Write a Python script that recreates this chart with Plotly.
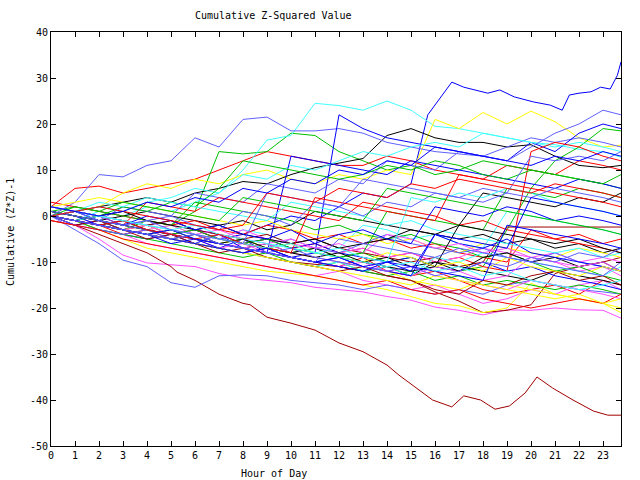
import plotly.graph_objects as go

hours = list(range(24)) + [23.75]

# colours seen in the picture
RED = "#ff0000"; GREEN = "#00c000"; BLUE = "#0000ff"; MAG = "#ff50ff"
CYAN = "#40ffff"; DRED = "#a00000"; YEL = "#ffff00"; BLACK = "#000000"; LBLUE = "#6060ff"

# ---- series (hourly values) ----
r1 = [2, 6, 6.5, 5, 6, 7, 8, 10, 12, 14, 13, 12, 11, 11, 13, 12, 10, 9, 8, 11, 10, 9, 12, 11, 10]
r2 = [0, -1, -2, -4, -3, -5, -6, -7, -8, -7, -9, -10, -11, -9, -12, -13, -12, -14, -16, -17, -16, -15, -17, -14, -15]
r3 = [1, 0, -1, -3, -2, -4, -3, -5, -6, -5, -7, -6, -8, -7, -9, -8, -10, -9, -11, -12, 14, 16, 15, 13, 12]
r4 = [3, 2, 1, 0, -1, -2, -1, -3, -4, -2, -3, -5, -4, -6, -5, -7, -6, -8, -9, -10, -3, -5, -4, -6, -5]
r5 = [0, 1, 0, -2, 3, 2, 1, 4, 3, 2, 1, 0, -1, 3, 2, 1, 0, -2, -1, -3, -4, -5, -6, -7, -8]
r6 = [-1, -2, -3, -5, -6, -7, -8, -9, -10, -11, -12, -13, -14, -15, -14, -16, -17, -16, -18, -19, -20, -19, -18, -19, -17]
r7 = [0, -1, -2, -1, -3, -4, -5, -4, -6, -7, -8, 4, 3, 2, 1, 0, -1, 9, 8, 7, 6, 5, 4, 3, 2]
r8 = [0, 1, 2, 1, 0, -1, -2, -3, -2, 5, 4, 3, 6, 5, 4, 7, 6, 8, 7, 6, 5, 7, 6, 5, 4]

g1 = [0, -1, -2, -3, -1, -2, 1, 14, 13.5, 14, 18, 17.5, 14, 12, 10, 11, 9, 10, 12, 11, 10, 9, 8, 7, 6]
g2 = [0, -1, -2, -3, -4, -3, -5, -6, -5, -7, -8, -7, -9, -8, -10, -9, -11, -12, -11, -3, 6, 12, 15, 19, 18.5]
g3 = [0, -1, -3, -4, -5, -6, -7, -8, -9, -8, -10, -11, -10, -12, -13, -12, -14, -13, -15, -14, -15, -16, -15, -16, -17]
g4 = [1, 2, 1, 0, -1, -2, 3, 2, 1, 0, -1, -3, -2, -4, -5, -4, -6, -7, -9, -8, -10, -12, -11, -13, -14]
g5 = [0, -1, 0, 2, 1, 3, 2, 6, 12, 11, 10, 9, 8, 9, 11, 10, 12, 11, 9, 8, 10, 9, 8, 7, 9]
g6 = [1, 0, -1, -2, -3, -4, -3, -5, -6, -5, -7, -8, -9, -8, 1, 0, -1, -2, -3, 6, 5, 4, 6, 5, 4]
g7 = [0, 2, 1, 3, 2, 1, 0, -1, 4, 3, 2, 1, 0, -1, 6, 5, 4, 3, 2, 1, 0, -1, -2, -3, -4]

b1_hours = list(range(16)) + [15.7, 16.7, 17.2, 17.7, 18.2, 18.7, 19.3, 20.1, 20.8, 21.3, 21.6, 22, 22.5, 22.9, 23.3, 23.6, 23.75]
b1 = [0, -1, -2, -3, -2, -4, -3, -5, -4, -2, 0, -1, 2, 5, 4, 7, 22, 29.1, 28, 27.4, 26.7, 27.4, 25.9, 24.8, 24.1, 23, 26.3, 26.7, 27, 28, 27.6, 30.6, 33.5]
b2 = [0, -1, -3, -4, -5, -4, -6, -7, -5, -8, -9, -8, 22, 19, 17, 16, 15, 14, 13, 12, 16, 14, 18, 20, 19]
b3 = [2, 1, 0, -1, -2, -1, -3, -4, -6, -5, -7, -6, -8, -9, -10, -9, -11, -12, -10, -12, -11, -13, -14, -15, -16]
b4 = [0, -2, -1, -3, -4, -5, -6, -4, -7, -8, 13, 12, 11, 10, 9, 12, 11, 10, 9, 8, 7, 6, 8, 7, 6]
b5 = [1, 0, -2, -3, -4, -6, -5, -7, -8, -7, -9, -10, -9, -11, -12, -13, -4, -6, -7, -5, -8, -9, -10, -11, -12]
b6 = [0, 1, -1, -2, 0, -1, -3, -2, -4, -5, -3, -6, -4, -3, -5, -6, 2, 1, 0, 2, 1, -1, 0, -1, -2]
b7 = [0, -1, -2, -3, -4, -3, -5, -6, -7, -8, -9, -10, -11, -12, -10, -11, -12, -13, -14, -2, -3, -4, -5, -6, -7]
b8 = [0, -1, -2, -3, -4, -5, -6, -7, -8, -7, -9, -10, -9, -11, -10, -12, -4, -5, -6, -7, 4, 3, 2, 1, 0]
b9 = [2, 1, 0, 1, 3, 2, 4, 3, 6, 5, 8, 7, 10, 9, 12, 11, 15, 14, 13, 12, 11, 13, 12, 14, 13]

m1 = [0, -2, -5, -8.5, -10.2, -10.6, -11, -12.5, -13.5, -14, -14.5, -15.5, -16, -16.5, -17.5, -18.3, -19.8, -20.5, -21.5, -20.4, -20.5, -20, -20.4, -20.5, -22.2]
m2 = [0, -1, -3, -4, -6, -7, -8, -9, -10, -11, -12, -13, -12, -14, -15, -16, -15, -17, -19, -18, -16, -17, -15, -14, -16]
m3 = [1, 0, -2, -1, -3, -4, -5, -7, -6, -8, -9, -10, -11, -10, -12, -13, -11, -12, -14, -13, -9, -10, -12, -11, -13]
m4 = [0, -1, 0, -2, -3, -2, -4, -5, -3, -5, -6, -7, -8, -7, -9, -8, -10, -9, -7, -8, -9, -8, -10, -9, -10]
m5 = [2, 1, 0, -1, -2, -3, -4, -3, -5, -6, -5, -7, -6, -8, -4, -5, -7, -6, -8, -7, -9, -10, -11, -10, -12]
m6 = [0, -1, -2, -3, -2, -4, -5, -6, -7, -6, -8, -9, -10, -11, -12, -11, -13, -14, -15, -16, -14, -15, -16, -17, -18]

c1 = [0, -1, 1, 0, 2, 1, 3, 5, 10, 16.5, 17.5, 24.5, 24, 23, 25, 23, 19.5, 19, 18, 17, 16, 15.5, 14.5, 14, 12.8]
c2 = [0, 1, 2, 1, 3, 4, 6, 5, 9, 8, 11, 10, 12, 14, 13, 15, 16, 15, 18, 17, 16, 15, 16, 15, 14]
c3 = [0, -1, -2, -1, -3, -2, -4, -5, -3, -4, -6, -5, -7, -2, -3, -5, -4, -6, -7, 1, 0, -1, -2, -3, -4]
c4 = [1, 0, -1, -3, -4, -5, -6, -7, -8, -9, -10, -11, -10, -12, -11, -13, -9, -10, -8, -9, -10, -11, -12, -13, -11]
c5 = [2, 1, 3, 2, 4, 3, 2, 1, 0, -1, 3, 2, 1, 0, -2, -1, -3, -4, -5, -6, -7, -8, -7, -9, -8]
c6 = [0, -1, 0, -1, -2, -3, -2, -4, -5, -6, -7, -8, -7, -9, -10, 4, 3, 5, 4, 6, 5, 3, 2, 1, 0]
c7 = [0, 1, 0, -1, -2, -3, -4, -5, -6, -7, -6, -8, -9, -10, -11, -10, -12, -11, -13, -12, -14, -15, -16, -15, -14]

d1_hours = [0, 1, 2, 3, 4, 5, 5.25, 6, 7, 8, 8.3, 9, 10, 11, 12, 13, 14, 14.5, 15, 15.9, 16.7, 17.2, 17.9,
            18.5, 19.1, 19.75, 20.25, 20.9, 21.75, 22.6, 23.2, 23.75]
d1 = [0, -2, -4, -6, -8, -11, -12.2, -14, -17, -19, -19.3, -22, -23.3, -24.8, -27.6, -29.5, -32.4, -34.6, -36.5,
      -40, -41.5, -39.1, -40, -42, -41.3, -38.5, -35, -37.4, -40, -42.4, -43.3, -43.3]
d2 = [0, -1, -2, -3, -4, -5, -6, -7, -8, -9, -10, -10.5, -11, -12, -13, -14, -16.5, -18.5, -21, -20.5, -19.3, -12.5, -11, -10, -9]
d3 = [0, 1, 0, -1, -2, -1, -3, -4, -5, -4, -6, -5, -7, -8, -9, -10, -9, -11, -10, -2.4, -2.4, -2.4, -2.4, -2.4, -2.4]
d4 = [-1, -2, -1, -3, -5, -4, -6, -8, -7, -9, -10, -11, -12, -11, -13, -14, -16, -17, -14, -15, -13, -12, -14, -13, -15]

y1 = [0, 1, 2, 5, 7, 6, 8, 7, 9, 10, 8, 7, 9, 8, 10, 9, 21, 19, 22.5, 20, 22.8, 20.5, 17, 15, 15.4]
y2 = [0, -1, -3, -5, -7, -8, -9, -10, -11, -12, -12.5, -13, -14, -15, -16, -17.5, -19, -19.5, -21, -20, -14.6, -17, -18, -19, -20]
y3 = [1, 0, -1, -2, -3, -2, -4, -5, -6, -7, -8, -9, -10, -11, -12, -14, -15, -16, -14, -15, -16, -17, -18, -19, -21]
y4 = [2, 3, 4, 3, 2, 1, 0, -1, -2, -1, -3, -4, -5, -4, -6, -5, -7, -8, -6, -7, -8, -9, -7, -8, -9]
y5 = [0, -1, -2, -3, -2, -4, -5, -6, -5, -7, -6, -8, -9, -10, -8, -9, -11, -10, -12, -9, -11, -12, -13, -11, -12]
y6 = [0, -1, -2, -3, -4, -5, -6, -7, -8, -9, -10, -11, -12, -13, -14, -15, -13, -14, -15, -16, -17, -18, -17, -19, -18]

k1 = [0, 1, 2, 3, 4, 3, 5, 6, 7.5, 7, 9, 10.5, 11.5, 12.5, 17.5, 19, 17, 16, 16, 15, 15.5, 13, 11, 10.5, 11]
k2 = [0, -1, -2, -3, -4, -5, -4, -6, -7, -8, -9, -10, -11, -12, -11, -13, -10, -11, -12, -13, -14, -12, -13, -14, -15]
k3 = [1, 0, -1, 0, 1, 0, -1, -2, -1, -3, -2, 1, 0, -1, -2, -3, -4, -5, -4, -6, -5, -7, -6, -8, -7]
k4 = [0, -1, -2, -1, -3, -4, -5, -6, -7, -6, -8, -7, -9, -10, -9, -11, -10, -12, -9, -8, -10, -9, -11, -10, -12]
k5 = [0, -1, 0, 1, -1, -2, -3, -2, -4, -5, -6, -5, -7, -6, -5, -3, -4, -2, 5, 4, 3, 2, 4, 3, 5]
k6 = [1, 0, -1, -2, -3, -4, -5, -6, -5, -7, -8, -9, -8, -10, -11, -12, -11, -2, -3, -4, -5, -6, -5, -7, -8]

lb1 = [0, 3, 9, 8.5, 11, 12, 17, 15, 21, 21.5, 18.5, 18.5, 19, 18, 16, 15, 14, 13.5, 13, 15, 17, 16, 17, 16, 15]
lb2 = [0, -3, -6, -9.6, -11, -14.5, -15.5, -13, -12.8, -13, -14, -14.5, -15, -16, -15, -16, -17, -16, -17, -15, -14, -15, -16, -16.5, -17]
lb3 = [1, 0, -1, 2, 1, 0, 5, 4, 3, 7, 6, 5, 8, 7, 12, 11, 10, 14, 13, 12, 15, 18, 20, 23, 22]
lb4 = [0, -2, -3, -4, -3, -5, -6, -4, -6, -7, -5, -7, -8, -6, -4, -6, -7, -8, -7, -9, -10, -8, -10, -11, -12]
lb5 = [2, 1, 0, -2, -1, 0, -2, -3, 1, 0, -2, 3, 2, 0, 3, 2, 5, 4, 6, 5, 13, 12, 13, 12, 14]
lb6 = [0, 1, -1, -2, -3, -4, -5, -6, -7, -8, -7, -9, -10, -11, -12, -11, -13, -12, -10, -11, -9, -10, -8, -9, -7]
lb7 = [1, 0, -1, -2, -1, -3, -4, -5, -6, 5, 4, 3, 2, 8, 7, 6, 5, 4, 3, 5, 4, 6, 5, 4, 3]
lb8 = [0, -1, -2, -3, -4, -5, -4, -6, -7, -8, -9, -10, -5, -6, -7, -8, -9, -7, -8, -9, -10, -11, -12, -13, -10]

traces = [
    (hours, r1, RED), (hours, g1, GREEN), (b1_hours, b1, BLUE), (hours, m1, MAG), (hours, c1, CYAN),
    (d1_hours, d1, DRED), (hours, y1, YEL), (hours, k1, BLACK), (hours, lb1, LBLUE),
    (hours, r2, RED), (hours, g2, GREEN), (hours, b2, BLUE), (hours, m2, MAG), (hours, c2, CYAN),
    (hours, d2, DRED), (hours, y2, YEL), (hours, k2, BLACK), (hours, lb2, LBLUE),
    (hours, r3, RED), (hours, g3, GREEN), (hours, b3, BLUE), (hours, m3, MAG), (hours, c3, CYAN),
    (hours, d3, DRED), (hours, y3, YEL), (hours, k3, BLACK), (hours, lb3, LBLUE),
    (hours, r4, RED), (hours, g4, GREEN), (hours, b4, BLUE), (hours, m4, MAG), (hours, c4, CYAN),
    (hours, d4, DRED), (hours, y4, YEL), (hours, k4, BLACK), (hours, lb4, LBLUE),
    (hours, r5, RED), (hours, g5, GREEN), (hours, b5, BLUE), (hours, m5, MAG), (hours, c5, CYAN),
    (hours, y5, YEL), (hours, k5, BLACK), (hours, lb5, LBLUE),
    (hours, r6, RED), (hours, g6, GREEN), (hours, b6, BLUE), (hours, m6, MAG), (hours, c6, CYAN),
    (hours, y6, YEL), (hours, k6, BLACK), (hours, lb6, LBLUE),
    (hours, r7, RED), (hours, g7, GREEN), (hours, b7, BLUE), (hours, c7, CYAN), (hours, lb7, LBLUE),
    (hours, r8, RED), (hours, b8, BLUE), (hours, b9, BLUE), (hours, lb8, LBLUE),
]

fig = go.Figure()
for xs, ys, col in traces:
    fig.add_trace(go.Scatter(x=xs, y=ys, mode="lines", line=dict(color=col, width=1),
                             showlegend=False, hoverinfo="skip"))

FONT = dict(family="DejaVu Sans Mono", size=10, color="black")

axis_common = dict(showline=True, linecolor="black", linewidth=1, mirror="ticks",
                   ticks="inside", ticklen=5, tickcolor="black", tickwidth=1,
                   showgrid=False, zeroline=False, tickfont=FONT)

fig.update_xaxes(range=[0, 23.75], tickmode="array", tickvals=list(range(24)),
                 ticktext=[str(h) for h in range(24)], **axis_common)
fig.update_yaxes(range=[-50, 40], tickmode="array", tickvals=list(range(-50, 41, 10)),
                 ticktext=[str(v) for v in range(-50, 41, 10)], **axis_common)

fig.update_layout(
    width=640, height=480,
    margin=dict(l=51, r=19, t=32, b=34),
    paper_bgcolor="white", plot_bgcolor="white",
    font=FONT,
    annotations=[
        dict(text="Cumulative Z-Squared Value", xref="paper", yref="paper",
             x=(273 - 51) / 570, y=1, yshift=17, showarrow=False, font=FONT,
             xanchor="center", yanchor="middle"),
        dict(text="Hour of Day", xref="paper", yref="paper",
             x=(274 - 51) / 570, y=0, yshift=-27, showarrow=False, font=FONT,
             xanchor="center", yanchor="middle"),
        dict(text="Cumulative (Z*Z)-1", xref="paper", yref="paper",
             x=0, xshift=-41, y=(446 - 232) / 414, showarrow=False, font=FONT,
             textangle=-90, xanchor="center", yanchor="middle"),
    ],
)

fig.write_html("out.html")
